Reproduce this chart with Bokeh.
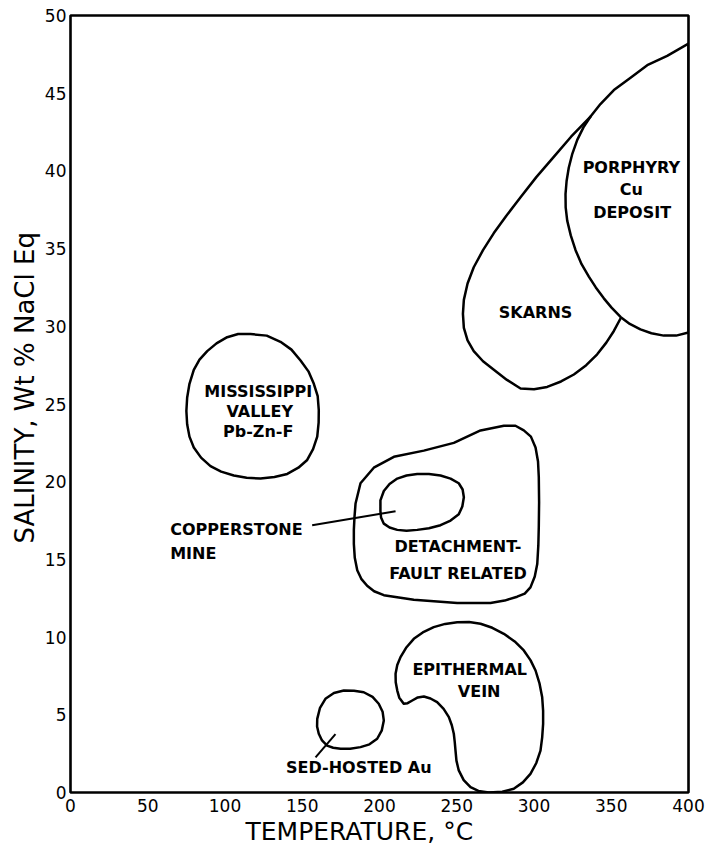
from bokeh.plotting import figure
from bokeh.models import Range1d, FixedTicker, Title
from bokeh.embed import file_html
from bokeh.resources import INLINE
from bokeh.core.properties import value

# ---------------- data (temperature degC, salinity wt% NaCl eq) ----------------
x_ticks = [0, 50, 100, 150, 200, 250, 300, 350, 400]
y_ticks = [0, 5, 10, 15, 20, 25, 30, 35, 40, 45, 50]

mvt_t = [116.5, 127.0, 135.9, 143.0, 148.9, 154.0, 157.5, 160.0, 160.7, 160.6, 159.7, 157.0, 153.2, 147.5, 140.3, 132.0, 123.0, 114.0, 105.7, 97.5, 90.6, 84.5, 79.8, 77.0, 75.5, 75.0, 75.5, 77.0, 79.8, 83.5, 88.5, 94.5, 101.4, 108.5]
mvt_s = [29.5, 29.4, 29.0, 28.5, 27.8, 27.1, 26.3, 25.5, 24.6, 23.8, 22.9, 22.1, 21.4, 20.9, 20.5, 20.3, 20.2, 20.25, 20.4, 20.65, 21.0, 21.55, 22.2, 22.9, 23.7, 24.55, 25.4, 26.3, 27.2, 27.85, 28.4, 28.9, 29.3, 29.5]

detach_t = [184.5, 187.7, 196.3, 209.3, 228.7, 248.1, 265.4, 280.5, 288.0, 293.4, 298.0, 301.0, 302.6, 303.1, 303.3, 303.1, 302.8, 302.1, 300.5, 297.7, 294.0, 289.1, 281.0, 271.8, 250.3, 222.2, 202.8, 196.5, 192.0, 188.2, 185.6, 184.0, 183.4, 183.4, 183.8]
detach_s = [18.6, 19.9, 20.9, 21.6, 22.0, 22.5, 23.3, 23.6, 23.6, 23.3, 22.9, 22.2, 21.3, 20.3, 18.7, 17.1, 15.9, 14.7, 13.9, 13.2, 12.8, 12.6, 12.35, 12.2, 12.2, 12.4, 12.7, 12.95, 13.3, 13.75, 14.3, 15.1, 16.0, 16.9, 17.7]

copper_t = [200.6, 202.8, 206.5, 211.5, 217.5, 224.4, 232.0, 239.5, 246.0, 251.3, 253.8, 254.6, 253.6, 251.3, 246.0, 239.5, 232.0, 224.4, 217.5, 211.5, 206.5, 202.8, 201.0, 200.6]
copper_s = [18.8, 19.4, 19.85, 20.2, 20.4, 20.5, 20.5, 20.4, 20.2, 19.9, 19.5, 19.0, 18.4, 17.9, 17.5, 17.2, 17.0, 16.9, 16.85, 16.9, 17.05, 17.3, 17.7, 18.1]

sed_t = [159.7, 161.5, 165.0, 170.5, 176.9, 183.5, 189.8, 195.5, 199.5, 202.0, 202.8, 201.5, 198.5, 193.5, 187.7, 181.0, 174.8, 170.0, 166.1, 162.8, 160.7, 159.6]
sed_s = [4.74, 5.45, 6.03, 6.4, 6.56, 6.55, 6.45, 6.15, 5.71, 5.2, 4.63, 4.0, 3.46, 3.1, 2.92, 2.82, 2.81, 2.88, 3.02, 3.35, 3.78, 4.25]

epi_t = [215.7, 212.8, 211.5, 210.5, 210.4, 211.5, 213.6, 217.5, 222.2, 228.0, 235.1, 242.5, 250.3, 258.0, 265.4, 273.0, 280.5, 287.5, 293.4, 297.8, 301.0, 303.6, 305.3, 305.9, 305.9, 305.3, 304.2, 301.5, 297.7, 292.8, 286.9, 279.5, 270.7, 264.0, 258.9, 254.5, 251.3, 249.8, 249.2, 248.7, 248.1, 246.8, 244.9, 241.5, 237.3, 233.0, 228.7, 224.8, 221.2, 218.2]
epi_s = [5.71, 6.1, 6.56, 7.1, 7.64, 8.2, 8.71, 9.35, 9.89, 10.3, 10.64, 10.85, 10.96, 10.97, 10.86, 10.6, 10.21, 9.72, 9.14, 8.5, 7.85, 7.0, 6.13, 5.25, 4.42, 3.55, 2.70, 1.9, 1.2, 0.65, 0.24, 0.05, 0.0, 0.1, 0.34, 0.8, 1.42, 2.05, 2.70, 3.25, 3.78, 4.33, 4.85, 5.38, 5.81, 6.05, 6.18, 6.12, 5.92, 5.75]

porph_t = [336.6, 343.0, 351.7, 362.5, 373.3, 386.2, 400.0, 400.0, 392.0, 384.0, 376.0, 368.9, 362.0, 356.0, 350.2, 345.2, 340.0, 335.5, 330.8, 326.9, 323.8, 321.5, 320.5, 320.4, 321.1, 322.5, 324.8, 328.0, 332.0]
porph_s = [43.5, 44.3, 45.2, 46.0, 46.8, 47.4, 48.2, 29.6, 29.4, 29.4, 29.55, 29.8, 30.15, 30.6, 31.2, 31.8, 32.5, 33.2, 34.0, 34.9, 35.85, 36.8, 37.65, 38.5, 39.35, 40.2, 41.1, 42.0, 42.8]

skarn_t = [336.6, 324.0, 312.8, 301.5, 291.3, 282.0, 274.0, 267.0, 261.0, 257.0, 254.6, 254.0, 254.6, 257.0, 261.0, 267.0, 274.0, 282.5, 291.3, 300.0, 308.5, 317.5, 325.8, 333.8, 340.9, 346.8, 351.7, 356.0]
skarn_s = [43.5, 42.2, 40.9, 39.6, 38.3, 37.1, 36.0, 34.9, 33.8, 32.75, 31.7, 30.8, 29.9, 29.1, 28.4, 27.75, 27.2, 26.55, 26.0, 25.95, 26.1, 26.45, 26.9, 27.5, 28.2, 28.95, 29.7, 30.5]

# ---------------- labels and leaders ----------------
center_labels = ["MISSISSIPPI", "VALLEY", "Pb-Zn-F", "SKARNS", "PORPHYRY", "Cu", "DEPOSIT",
                 "DETACHMENT-", "FAULT RELATED", "EPITHERMAL", "VEIN", "SED-HOSTED Au"]
center_label_t = [121.5, 122.5, 121.5, 301.0, 363.0, 363.0, 363.5, 250.8, 250.8, 258.4, 264.5, 186.6]
center_label_s = [25.8, 24.5, 23.2, 30.9, 40.2, 38.8, 37.3, 15.8, 14.1, 7.9, 6.5, 1.6]

left_labels = ["COPPERSTONE", "MINE"]
left_label_t = [64.5, 64.5]
left_label_s = [16.9, 15.4]

leader_copper_t = [156.4, 210.4]
leader_copper_s = [17.2, 18.1]
leader_sed_t = [158.6, 171.5]
leader_sed_s = [2.26, 3.76]

x_title = "TEMPERATURE, °C"
y_title = "SALINITY, Wt % NaCl Eq"

FONT = "DejaVu Sans"
LW = 2.5

p = figure(width=705, height=847, output_backend="svg", toolbar_location=None,
           x_range=Range1d(0, 400), y_range=Range1d(0, 50),
           min_border_left=70, min_border_right=17, min_border_top=15, min_border_bottom=55)
p.background_fill_color = "white"
p.border_fill_color = "white"
p.grid.visible = False
p.outline_line_color = "black"
p.outline_line_width = 2.6

for ax in (p.xaxis, p.yaxis):
    ax.axis_line_color = None
    ax.major_tick_line_color = None
    ax.minor_tick_line_color = None
    ax.major_tick_out = 0
    ax.major_tick_in = 0
    ax.major_label_text_font = FONT
    ax.major_label_text_font_size = "17px"
    ax.major_label_text_color = "black"

p.xaxis.ticker = FixedTicker(ticks=x_ticks)
p.yaxis.ticker = FixedTicker(ticks=y_ticks)
p.xaxis.major_label_standoff = 6
p.yaxis.major_label_standoff = 4

xt = Title(text=x_title, align="left", offset=175, standoff=0,
           text_font=FONT, text_font_size="25px", text_font_style="normal", text_color="black")
p.add_layout(xt, "below")
yt = Title(text=y_title, align="left", offset=249, standoff=4,
           text_font=FONT, text_font_size="26px", text_font_style="normal", text_color="black")
p.add_layout(yt, "left")

def closed(a):
    return list(a) + [a[0]]

for tt, ss in [(mvt_t, mvt_s), (detach_t, detach_s), (copper_t, copper_s),
               (sed_t, sed_s), (epi_t, epi_s), (porph_t, porph_s)]:
    p.line(closed(tt), closed(ss), line_color="black", line_width=LW, line_join="round", line_cap="round")

p.line(skarn_t, skarn_s, line_color="black", line_width=LW, line_join="round", line_cap="round")
p.line(leader_copper_t, leader_copper_s, line_color="black", line_width=2.0)
p.line(leader_sed_t, leader_sed_s, line_color="black", line_width=2.0)

p.text(x=center_label_t, y=center_label_s, text=center_labels, text_align="center",
       text_baseline="middle", text_font=value(FONT), text_font_style="bold",
       text_font_size="16px", text_color="black")
p.text(x=left_label_t, y=left_label_s, text=left_labels, text_align="left",
       text_baseline="middle", text_font=value(FONT), text_font_style="bold",
       text_font_size="16px", text_color="black")

open("out.html", "w").write(file_html(p, INLINE))
